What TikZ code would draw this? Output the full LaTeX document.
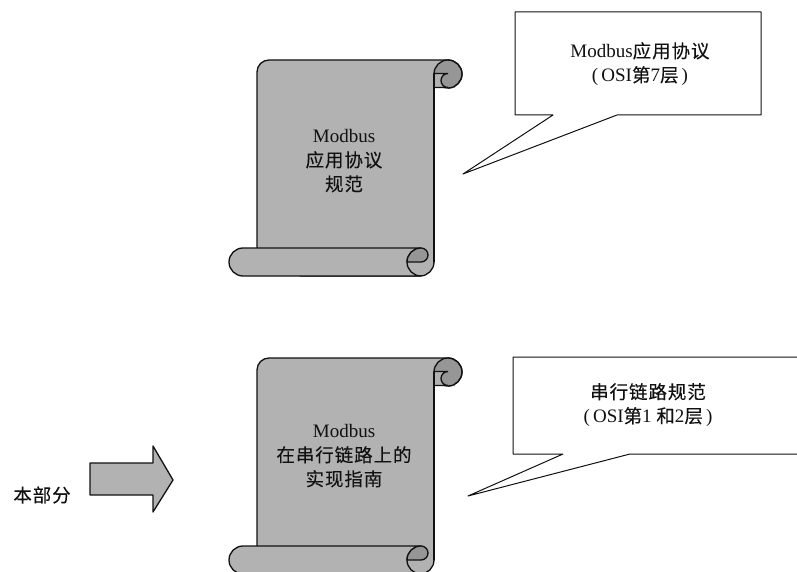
\documentclass[tikz,border=0pt]{standalone}
\usepackage{fontspec}
\setmainfont{Liberation Serif}
\newfontfamily\cjk[LetterSpace=5,FakeBold=0.15]{Noto Sans CJK SC}
\newcommand{\zh}[1]{{\cjk\fontsize{18.5}{24}\selectfont #1}}
\definecolor{bodygray}{HTML}{B2B2B2}
\definecolor{darkgray}{HTML}{969696}
\definecolor{inkblack}{HTML}{111111}
\tikzset{
  x=1pt,y=-1pt,
  outline/.style={draw=inkblack,line width=1.3pt,line join=round},
  plainline/.style={draw=inkblack,line width=1.3pt,line cap=round},
  balloon/.style={draw=inkblack,line width=1pt,fill=white,line join=round},
  caption/.style={align=center,inner sep=0pt,text=inkblack,font=\fontsize{19}{24}\selectfont},
  scrollart/.pic={
    % main sheet
    \path[outline,fill=bodygray] (257,250) -- (257,72) arc (180:270:12) -- (448,60) -- (448,87) -- (434,87) -- (434,262) arc (0:90:14) -- (300,276) -- (300,250) -- cycle;
    % top curl
    \path[outline,fill=darkgray] (448,74) circle (14);
    \path[fill=bodygray] (434,73.5) rectangle (448,87);
    \path[fill=darkgray] (448,73) arc (270:90:7) -- (448,88) -- (455,88) -- (455,73) -- cycle;
    \path[plainline] (434,73.5) -- (448,73.5) arc (270:90:7) -- (434,87.5);
    \path[outline] (448,60) arc (-90:90:14);
    \path[plainline] (434,74) -- (434,262);
    % bottom roll
    \path[outline,fill=bodygray] (421,248) -- (243,248) arc (270:90:14) -- (421,276) arc (90:180:14) arc (180:270:14) -- cycle;
    \path[outline,fill=darkgray] (421,248) arc (270:180:14) -- (421,262) arc (90:-90:7) -- cycle;
  }
}
\begin{document}
\begin{tikzpicture}
  \useasboundingbox (0,0) rectangle (797,572);

  % scrolls
  \pic at (0,0) {scrollart};
  \pic at (0,298) {scrollart};

  % callouts
  \coordinate (tipa) at (463,174);
  \coordinate (tipb) at (468,496);
  \path[balloon] (515,12) -- (761,12) -- (761,115) -- (617,115) -- (tipa) -- (553,115) -- (515,115) -- cycle;
  \path[balloon] (513,357) -- (805,357) -- (805,454) -- (630,454) -- (tipb) -- (563,454) -- (513,454) -- cycle;

  % arrow
  \path[outline,fill=bodygray] (90,463) -- (153,463) -- (153,446) -- (173,480) -- (153,512) -- (153,495) -- (90,495) -- cycle;

  % texts
  \node[caption] (scrolla) at (344,161) {Modbus\\\zh{应用协议}\\\zh{规范}};
  \node[caption] (scrollb) at (344,456) {Modbus\\\zh{在串行链路上的}\\\zh{实现指南}};
  \node[caption] (notea) at (640,64) {Modbus\zh{应用协议}\\(\,OSI\zh{第}7\zh{层}\,)};
  \node[caption] (noteb) at (648,405) {\zh{串行链路规范}\\(\,OSI\zh{第}1 \zh{和}2\zh{层}\,)};
  \node[caption] (part) at (42,495) {\zh{本部分}};
\end{tikzpicture}
\end{document}
